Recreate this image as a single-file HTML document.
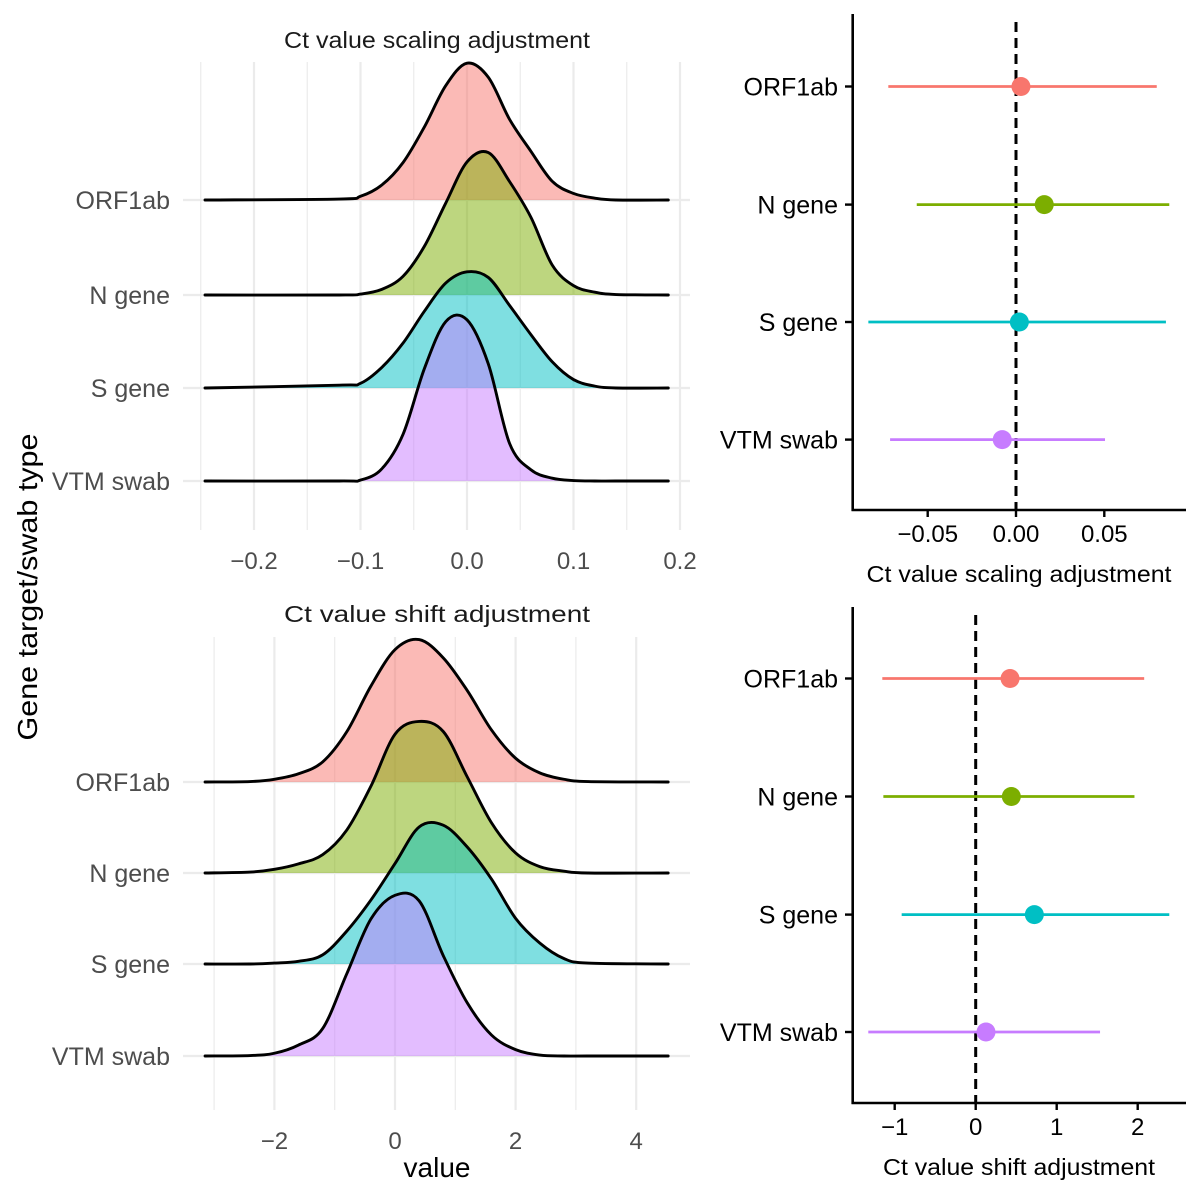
<!DOCTYPE html>
<html><head><meta charset="utf-8"><style>
html,body{margin:0;padding:0;background:#fff;}
svg{display:block;font-family:"Liberation Sans",sans-serif;}
</style></head><body>
<svg id="chart" width="1200" height="1200" viewBox="0 0 1200 1200" xmlns="http://www.w3.org/2000/svg">
<rect x="0" y="0" width="1200" height="1200" fill="#fff"/>
<text transform="translate(37,587) rotate(-90)" text-anchor="middle" font-size="28" fill="#000" textLength="307" lengthAdjust="spacingAndGlyphs">Gene target/swab type</text>
<text x="437" y="1177" text-anchor="middle" font-size="28" fill="#000">value</text>
</svg>
<script>
const genes = ["ORF1ab","N gene","S gene","VTM swab"];
const colors = ["#F8766D","#7CAE00","#00BFC4","#C77CFF"];
// top ridge (scaling) grid & densities (height in ridge-spacing units)
const scaleGrid = [-0.246,-0.12,-0.1,-0.08,-0.06,-0.04,-0.02,0,0.02,0.04,0.06,0.08,0.10,0.12,0.14,0.189];
const scaleORF1ab = [0,0.01,0.04,0.16,0.40,0.78,1.22,1.46,1.31,0.86,0.52,0.20,0.07,0.02,0,0];
const scaleNgene = [0,0,0.01,0.06,0.20,0.52,0.98,1.42,1.52,1.21,0.83,0.32,0.10,0.03,0.005,0];
const scaleSgene = [0,0.03,0.05,0.22,0.48,0.82,1.12,1.24,1.18,0.88,0.57,0.28,0.09,0.02,0,0];
const scaleVTM = [0,0,0.01,0.13,0.50,1.20,1.70,1.72,1.25,0.40,0.12,0.03,0.005,0,0,0];
// bottom ridge (shift) grid & densities
const shiftGrid = [-3.15,-2.4,-2,-1.6,-1.2,-0.8,-0.4,0,0.4,0.8,1.2,1.6,2.0,2.4,2.8,3.2,4.53];
const shiftORF1ab = [0,0.005,0.03,0.09,0.22,0.55,1.05,1.45,1.56,1.36,1.00,0.57,0.26,0.10,0.03,0.005,0];
const shiftNgene = [0,0.01,0.04,0.10,0.20,0.47,0.95,1.52,1.66,1.55,1.05,0.55,0.22,0.07,0.02,0,0];
const shiftSgene = [0,0,0.01,0.03,0.10,0.36,0.70,1.10,1.50,1.52,1.28,0.93,0.50,0.23,0.06,0.01,0];
const shiftVTM = [0,0.005,0.03,0.12,0.30,0.90,1.50,1.76,1.70,1.10,0.58,0.23,0.07,0.01,0,0,0];
// interval estimates
const scaleLo = [-0.0723,-0.0562,-0.0836,-0.0713];
const scaleMid = [0.0028,0.016,0.0019,-0.0078];
const scaleHi = [0.0797,0.0868,0.0849,0.0504];
const shiftLo = [-1.153,-1.14,-0.914,-1.326];
const shiftMid = [0.424,0.44,0.724,0.127];
const shiftHi = [2.08,1.96,2.39,1.535];
// ticks
const ridgeScaleTicks = [-0.2,-0.1,0.0,0.1,0.2];
const ridgeScaleTickLabels = ["\u22120.2","\u22120.1","0.0","0.1","0.2"];
const ridgeScaleMinor = [-0.25,-0.15,-0.05,0.05,0.15];
const ridgeShiftTicks = [-2,0,2,4];
const ridgeShiftTickLabels = ["\u22122","0","2","4"];
const ridgeShiftMinor = [-3,-1,1,3];
const estScaleTicks = [-0.05,0,0.05];
const estScaleTickLabels = ["\u22120.05","0.00","0.05"];
const estShiftTicks = [-1,0,1,2];
const estShiftTickLabels = ["\u22121","0","1","2"];

const NS="http://www.w3.org/2000/svg";
const svg=document.getElementById('chart');
function mk(tag,attrs,parent){const e=document.createElementNS(NS,tag);for(const k in attrs)e.setAttribute(k,attrs[k]);(parent||svg).appendChild(e);return e;}

function smoothPath(pts){
  let d="M"+pts[0][0].toFixed(2)+","+pts[0][1].toFixed(2);
  for(let i=0;i<pts.length-1;i++){
    const p0=pts[Math.max(0,i-1)],p1=pts[i],p2=pts[i+1],p3=pts[Math.min(pts.length-1,i+2)];
    const c1x=p1[0]+(p2[0]-p0[0])/6,c1y=p1[1]+(p2[1]-p0[1])/6;
    const c2x=p2[0]-(p3[0]-p1[0])/6,c2y=p2[1]-(p3[1]-p1[1])/6;
    d+=" C"+c1x.toFixed(2)+","+c1y.toFixed(2)+" "+c2x.toFixed(2)+","+c2y.toFixed(2)+" "+p2[0].toFixed(2)+","+p2[1].toFixed(2);
  }
  return d;
}

function ridge(cfg){
  const g=mk('g',{});  
  const xs=v=>cfg.x0+v*cfg.k;
  cfg.minor.forEach(v=>{const l=mk('line',{x1:xs(v),x2:xs(v),y1:cfg.top,y2:cfg.bot,stroke:'#ebebeb','stroke-width':1.2},g);
    });
  cfg.ticks.forEach(v=>{const l=mk('line',{x1:xs(v),x2:xs(v),y1:cfg.top,y2:cfg.bot,stroke:'#ebebeb','stroke-width':2.2},g);
    });
  cfg.base.forEach((b,i)=>{const l=mk('line',{x1:cfg.left,x2:cfg.right,y1:b,y2:b,stroke:'#ebebeb','stroke-width':2.2},g);
    });
  cfg.ticks.forEach((v,i)=>{const t=mk('text',{x:xs(v),y:cfg.bot+39,'text-anchor':'middle','font-size':24,fill:'#4d4d4d'},g);t.textContent=cfg.tickLabels[i];
    });
  genes.forEach((gn,i)=>{const t=mk('text',{x:170,y:cfg.base[i]+9,'text-anchor':'end','font-size':25,fill:'#4d4d4d'},g);t.textContent=gn;
    });
  const tt=mk('text',{x:437,y:cfg.titleY,'text-anchor':'middle','font-size':23,fill:'#1a1a1a',textLength:306,lengthAdjust:'spacingAndGlyphs'},g);tt.textContent=cfg.title;
  
  cfg.series.forEach((dens,i)=>{
    const b=cfg.base[i];
    const pts=cfg.grid.map((v,j)=>[xs(v),b-dens[j]*cfg.sp]);
    const d=smoothPath(pts);
    const f=mk('path',{d:d+" L"+xs(cfg.grid[cfg.grid.length-1])+","+b+" L"+xs(cfg.grid[0])+","+b+" Z",fill:colors[i],'fill-opacity':0.5,stroke:'none'},g);
    
    
    const s=mk('path',{d:d,fill:'none',stroke:'#000','stroke-width':2.9,'stroke-linejoin':'round','stroke-linecap':'round'},g);
    
    
  });
}

ridge({name:'scaling-ridge-panel',x0:467,k:1065,top:62,bot:530,left:183,right:690,base:[200,295,388,481],sp:93.7,
  grid:scaleGrid,series:[scaleORF1ab,scaleNgene,scaleSgene,scaleVTM],ticks:ridgeScaleTicks,tickLabels:ridgeScaleTickLabels,minor:ridgeScaleMinor,
  title:'Ct value scaling adjustment',titleY:48});
ridge({name:'shift-ridge-panel',x0:395,k:60.3,top:637,bot:1110,left:183,right:690,base:[782,873,964,1056],sp:91.3,
  grid:shiftGrid,series:[shiftORF1ab,shiftNgene,shiftSgene,shiftVTM],ticks:ridgeShiftTicks,tickLabels:ridgeShiftTickLabels,minor:ridgeShiftMinor,
  title:'Ct value shift adjustment',titleY:622});

function est(cfg){
  const g=mk('g',{});  
  const xs=v=>cfg.x0+v*cfg.k;
  const z=mk('line',{x1:xs(0),x2:xs(0),y1:cfg.top+8,y2:cfg.bot,stroke:'#000','stroke-width':3,'stroke-dasharray':'10,6'},g);
  
  genes.forEach((gn,i)=>{
    const y=cfg.rows[i];
    const l=mk('line',{x1:xs(cfg.lo[i]),x2:xs(cfg.hi[i]),y1:y,y2:y,stroke:colors[i],'stroke-width':2.8},g);
    
    const c=mk('circle',{cx:xs(cfg.mid[i]),cy:y,r:9.5,fill:colors[i]},g);
    
    const tk=mk('line',{x1:845,x2:853,y1:y,y2:y,stroke:'#000','stroke-width':2.4},g);
    
    const t=mk('text',{x:838,y:y+9,'text-anchor':'end','font-size':25,fill:'#000'},g);t.textContent=gn;
    
  });
  const ya=mk('line',{x1:852.7,x2:852.7,y1:cfg.top,y2:cfg.bot+1,stroke:'#000','stroke-width':2.6},g);
  
  const xa=mk('line',{x1:851.5,x2:1186,y1:cfg.bot,y2:cfg.bot,stroke:'#000','stroke-width':2.6},g);
  
  cfg.ticks.forEach((v,i)=>{
    const tk=mk('line',{x1:xs(v),x2:xs(v),y1:cfg.bot,y2:cfg.bot+7,stroke:'#000','stroke-width':2.4},g);
    
    const t=mk('text',{x:xs(v),y:cfg.bot+32,'text-anchor':'middle','font-size':24,fill:'#000'},g);t.textContent=cfg.tickLabels[i];
    
  });
  const tt=mk('text',{x:1019,y:cfg.bot+72,'text-anchor':'middle','font-size':23,fill:'#000',textLength:cfg.titleLen,lengthAdjust:'spacingAndGlyphs'},g);tt.textContent=cfg.title;
  
}
est({name:'scaling-estimate-panel',x0:1016,k:1766,top:14,bot:510,rows:[86.5,204.6,322,439.6],lo:scaleLo,mid:scaleMid,hi:scaleHi,
  ticks:estScaleTicks,tickLabels:estScaleTickLabels,title:'Ct value scaling adjustment',titleLen:305});
est({name:'shift-estimate-panel',x0:975.7,k:81,top:607,bot:1103,rows:[678.5,796.5,914.6,1032],lo:shiftLo,mid:shiftMid,hi:shiftHi,
  ticks:estShiftTicks,tickLabels:estShiftTickLabels,title:'Ct value shift adjustment',titleLen:272});
</script>
</body></html>
